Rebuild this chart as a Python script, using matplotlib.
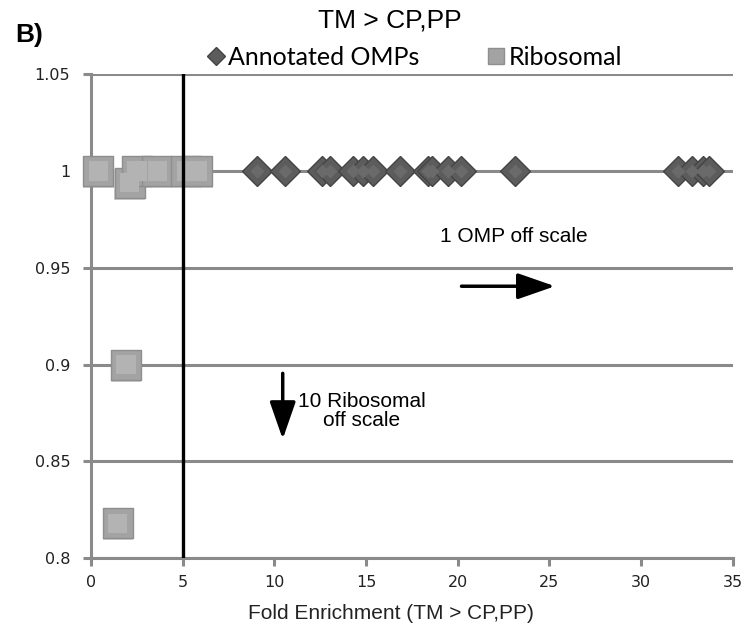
import matplotlib
matplotlib.use("Agg")
import matplotlib.pyplot as plt
from matplotlib.lines import Line2D

# fold enrichment values
omp_x = [9.05, 10.6, 12.6, 13.05, 14.3, 14.85, 15.4, 16.85, 18.4, 18.6,
         19.45, 20.15, 23.1, 32.0, 32.8, 33.4, 33.7]
omp_y = [1.0] * len(omp_x)
ribo_x = [0.4, 2.1, 2.5, 3.6, 5.2, 5.8, 1.9, 1.45]
ribo_y = [1.0, 0.994, 1.0, 1.0, 1.0, 1.0, 0.9, 0.818]

y_ticks = [0.8, 0.85, 0.9, 0.95, 1.0, 1.05]
y_labels = ["0.8", "0.85", "0.9", "0.95", "1", "1.05"]
x_ticks = [0, 5, 10, 15, 20, 25, 30, 35]

GRID = "#8a8a8a"

fig = plt.figure(figsize=(7.47, 6.35), dpi=100)
ax = fig.add_axes([0.122, 0.121, 0.859, 0.762])

ax.set_xlim(0, 35)
ax.set_ylim(0.8, 1.05)
ax.set_yticks(y_ticks)
ax.set_yticklabels(y_labels)
ax.set_xticks(x_ticks)
ax.grid(axis="y", color=GRID, linewidth=2.2, zorder=0)
ax.set_axisbelow(True)
for s in ["top", "right"]:
    ax.spines[s].set_visible(False)
for s in ["left", "bottom"]:
    ax.spines[s].set_color(GRID)
    ax.spines[s].set_linewidth(2.2)
ax.tick_params(colors=GRID, width=2.2, length=6, labelcolor="#222222",
               labelsize=11.5)
ax.tick_params(axis="x", pad=6)
ax.tick_params(axis="y", pad=9)

# ribosomal squares (fake bevel: base + lighter inner face)
ax.scatter(ribo_x, [y - 0.001 for y in ribo_y], marker="s", s=480,
           color="#cfcfcf", edgecolors="none", zorder=2, clip_on=False)
ax.scatter(ribo_x, ribo_y, marker="s", s=470, facecolor="#a3a3a3",
           edgecolors="#8e8e8e", linewidths=1, zorder=3, clip_on=False)
ax.scatter(ribo_x, ribo_y, marker="s", s=190, facecolor="#b3b3b3",
           edgecolors="none", zorder=3, clip_on=False)

# OMP diamonds
ax.plot(omp_x, omp_y, linestyle="none", marker="D", markersize=15,
        markerfacecolor="#5c5c5c", markeredgecolor="#444444",
        markeredgewidth=1, zorder=4, clip_on=False)
ax.plot(omp_x, omp_y, linestyle="none", marker="D", markersize=7,
        markerfacecolor="#6a6a6a", markeredgecolor="none", zorder=4,
        clip_on=False)

# cutoff line
ax.axvline(5, color="black", linewidth=2.4, zorder=5)

ax.set_xlabel("Fold Enrichment (TM > CP,PP)", fontsize=15, color="#222222",
              family="Liberation Sans")
ax.xaxis.set_label_coords(0.467, -0.095)

# annotations
arrow = dict(arrowstyle="-|>,head_length=2.3,head_width=0.8",
             color="black", lw=2.5, shrinkA=0, shrinkB=0)
ax.text(23.06, 0.966, "1 OMP off scale", fontsize=15, ha="center",
        va="center", family="Liberation Sans")
ax.annotate("", xy=(25.3, 0.9405), xytext=(20.2, 0.9405), arrowprops=arrow)
ax.text(14.75, 0.876, "10 Ribosomal\noff scale", fontsize=15, ha="center",
        va="center", family="Liberation Sans", linespacing=1.05)
ax.annotate("", xy=(10.45, 0.8615), xytext=(10.45, 0.8955), arrowprops=arrow)

fig.text(0.522, 0.967, "TM > CP,PP", fontsize=19, ha="center", va="center",
         family="Liberation Sans")
fig.text(0.02, 0.945, "B)", fontsize=19, fontweight="bold", ha="left",
         va="center", family="Liberation Sans")

handles = [
    Line2D([], [], linestyle="none", marker="D", markersize=9,
           markerfacecolor="#5c5c5c", markeredgecolor="#444444"),
    Line2D([], [], linestyle="none", marker="s", markersize=11,
           markerfacecolor="#a3a3a3", markeredgecolor="#8e8e8e"),
]
fig.legend(handles, ["Annotated OMPs", "Ribosomal"], loc="center",
           bbox_to_anchor=(0.553, 0.910), ncol=2, frameon=False,
           prop={"family": "Lato", "size": 18}, handletextpad=0.05,
           columnspacing=2.6, handlelength=0.9)

fig.savefig("out.png", dpi=100)
